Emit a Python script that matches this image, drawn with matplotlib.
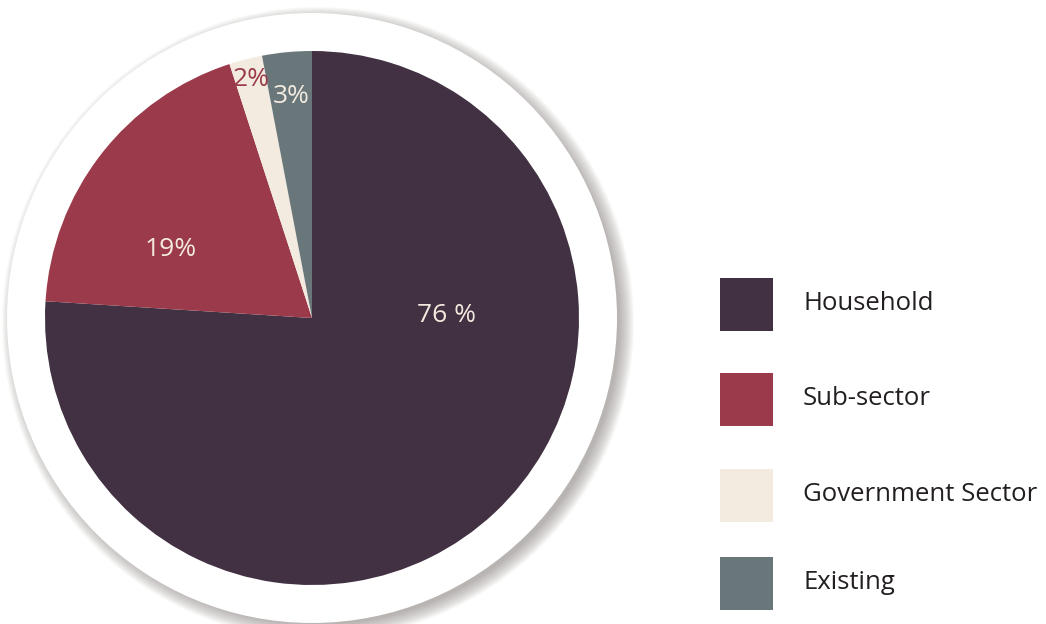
import numpy as np
import matplotlib.pyplot as plt
from matplotlib.patches import Circle, Rectangle

plt.rcParams['font.family'] = ['Open Sans', 'DejaVu Sans']

sectors = ["Household", "Sub-sector", "Government Sector", "Existing"]
shares = [76, 19, 2, 3]
share_labels = ["76 %", "19%", "2%", "3%"]
colors = ["#413142", "#9a3a4a", "#f3ebdf", "#69777a"]
label_colors = ["#f3ebdf", "#f3ebdf", "#9a3a4a", "#f3ebdf"]

W, H = 1046, 624
fig = plt.figure(figsize=(W / 100, H / 100), dpi=100)
ax = fig.add_axes([0, 0, 1, 1])

cx, cy, r = 312, H - 318, 267

# soft drop shadow behind the white ring
for i in range(16):
    ax.add_patch(Circle((cx + 6, cy - 5), 316 - i * 1.0,
                        color="#7d7573", alpha=0.045, lw=0, zorder=1))
ax.add_patch(Circle((cx, cy), 305, color="white", lw=0, zorder=2))

wedges, _ = ax.pie(shares, colors=colors, startangle=90, counterclock=False,
                   center=(cx, cy), radius=r, frame=True,
                   wedgeprops=dict(linewidth=0))
for w in wedges:
    w.set_zorder(3)
ax.set_xlim(0, W)
ax.set_ylim(0, H)
ax.set_aspect('equal')
ax.axis('off')

# percentage text: angle in degrees (or None for mid-wedge) and distance from centre
label_place = [(1, 135), (154, 157), (None, 246), (None, 222)]
for w, txt, col, (ang, dist) in zip(wedges, share_labels, label_colors, label_place):
    if ang is None:
        ang = (w.theta1 + w.theta2) / 2
    x = cx + dist * np.cos(np.radians(ang))
    y = cy + dist * np.sin(np.radians(ang))
    ax.text(x, y, txt, color=col, fontsize=19, ha='center', va='center', zorder=5)

# legend
box = 53
tops = [278, 373, 469, 557]
for name, col, top in zip(sectors, colors, tops):
    ax.add_patch(Rectangle((720, H - top - box), box, box, color=col, lw=0))
    ax.text(803, H - top - box / 2 + 1, name, fontsize=18.5, color="#231f20",
            ha='left', va='center')

fig.savefig("out.png", dpi=100)
